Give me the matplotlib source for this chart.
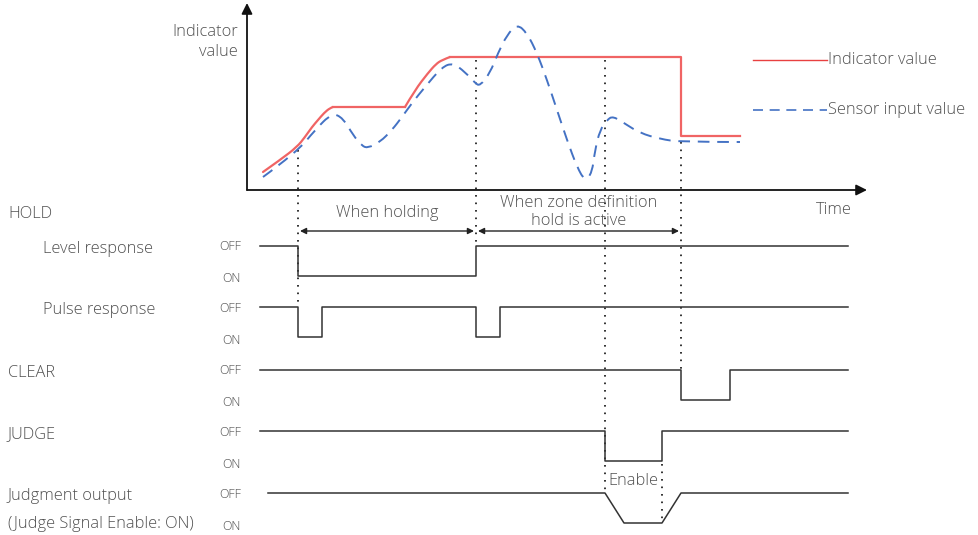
import matplotlib
matplotlib.use("Agg")
import matplotlib.pyplot as plt
from matplotlib.path import Path
from matplotlib.patches import PathPatch

plt.rcParams['font.family'] = ['Open Sans', 'DejaVu Sans']

# ---------------- data ----------------
# Upper chart: time (px from left) and value (px above the time axis)
sensor_t = [263, 297, 315, 332, 343, 353, 362, 368, 380, 392, 402, 412, 425, 442, 453,
            465, 475, 480, 490, 498, 507, 517, 527, 537, 547, 557, 567, 577, 585, 592,
            595, 600, 607, 613, 627, 640, 660, 681, 740]
sensor_v = [13, 38, 60, 77, 72, 55, 44, 42, 48, 60, 73, 87, 103, 123, 127,
            118, 107, 104, 117, 137, 155, 166, 157, 137, 110, 80, 50, 23, 9, 17,
            40, 60, 70, 74, 65, 57, 51, 48, 48]

indicator_t = [263, 280, 297, 305, 312, 318, 324, 330, 333, 405, 415, 428, 436, 442, 450, 681, 681, 740]
indicator_v = [18, 30, 43, 53, 63, 70, 77, 82, 83, 83, 100, 117, 126, 130, 133, 133, 54, 54]

# Timing signals: transition times and levels (1 = OFF, 0 = ON)
level_t = [260, 298, 298, 476, 476, 848]
level_s = [1, 1, 0, 0, 1, 1]
pulse_t = [260, 298, 298, 322, 322, 476, 476, 500, 500, 848]
pulse_s = [1, 1, 0, 0, 1, 1, 0, 0, 1, 1]
clear_t = [260, 681, 681, 730, 730, 848]
clear_s = [1, 1, 0, 0, 1, 1]
judge_t = [260, 605, 605, 662, 662, 848]
judge_s = [1, 1, 0, 0, 1, 1]
output_t = [268, 605, 624, 662, 681, 848]
output_s = [1, 1, 0, 0, 1, 1]

row_labels = ["Level response", "Pulse response", "CLEAR", "JUDGE", "Judgment output"]
row_indent = [43, 43, 8, 8, 8]
row_off_y = [246, 307, 370, 431, 493]
row_height = 30

hold_start, hold_end, zone_end = 298, 476, 681
judge_on, judge_off = 605, 662

# ---------------- figure ----------------
W, H = 979, 535
fig = plt.figure(figsize=(W / 100, H / 100), dpi=100)
ax = fig.add_axes([0, 0, 1, 1])
ax.set_xlim(0, W)
ax.set_ylim(H, 0)
ax.axis('off')

axis_y = 190
top = fig.add_axes([0, (H - axis_y) / H, 1, axis_y / H])
top.set_xlim(0, W)
top.set_ylim(0, axis_y)
top.axis('off')
top.patch.set_alpha(0)

txt = '#505050'
sig = '#333333'
fw = 'light'
fs = 11.8
red = '#f06464'
blue = '#4472c4'

# axes arrows
x0 = 247
top.annotate('', xy=(867, 0), xytext=(x0, 0), annotation_clip=False,
             arrowprops=dict(arrowstyle='-|>', mutation_scale=16, color='#111111', lw=1.3, shrinkA=0, shrinkB=0))
top.annotate('', xy=(x0, 187), xytext=(x0, 0), annotation_clip=False,
             arrowprops=dict(arrowstyle='-|>', mutation_scale=16, color='#111111', lw=1.3, shrinkA=0, shrinkB=0))


def smooth_path(xs, ys):
    """Quadratic B-spline path using the read points as control points."""
    verts = [(xs[0], ys[0])]
    codes = [Path.MOVETO]
    n = len(xs)
    for i in range(1, n - 1):
        mx, my = (xs[i] + xs[i + 1]) / 2, (ys[i] + ys[i + 1]) / 2
        if i == n - 2:
            mx, my = xs[i + 1], ys[i + 1]
        verts += [(xs[i], ys[i]), (mx, my)]
        codes += [Path.CURVE3, Path.CURVE3]
    return Path(verts, codes)


# indicator: smooth rise, flat, smooth rise, flat, drop
for seg in [slice(0, 9), slice(9, 15)]:
    top.add_patch(PathPatch(smooth_path(indicator_t[seg], indicator_v[seg]), fill=False,
                            edgecolor=red, lw=1.6, clip_on=False, zorder=3, capstyle='round'))
top.plot(indicator_t[8:10], indicator_v[8:10], color=red, lw=1.6, clip_on=False, zorder=3)
top.plot(indicator_t[14:], indicator_v[14:], color=red, lw=1.6, clip_on=False, zorder=3)
# sensor
top.add_patch(PathPatch(smooth_path(sensor_t, sensor_v), fill=False, edgecolor=blue,
                        lw=1.4, linestyle=(0, (6, 4)), clip_on=False, zorder=3))

# legend
ax.plot([753, 827], [60, 60], color='#e84040', lw=1.0)
ax.text(828, 60, "Indicator value", color=txt, fontsize=fs, fontweight=fw, va='center', ha='left')
ax.plot([753, 827], [110, 110], color=blue, lw=1.2, dashes=(6, 4))
ax.text(828, 110, "Sensor input value", color=txt, fontsize=fs, fontweight=fw, va='center', ha='left')

ax.text(238, 42, "Indicator\nvalue", color=txt, fontsize=fs, fontweight=fw, ha='right', va='center',
        linespacing=1.4)
ax.text(834, 210, "Time", color=txt, fontsize=fs, fontweight=fw, ha='center', va='center')

# dotted guide lines
dot = dict(color='#111111', lw=1.2, linestyle=(0, (1, 3.5)))
ax.plot([hold_start, hold_start], [150, 307], **dot)
ax.plot([hold_end, hold_end], [60, 246], **dot)
ax.plot([judge_on, judge_on], [60, 493], **dot)
ax.plot([judge_off, judge_off], [464, 523], **dot)
ax.plot([zone_end, zone_end], [142, 370], **dot)

# range arrows
for a, b in [(hold_start, hold_end), (hold_end, zone_end)]:
    ax.annotate('', xy=(b - 2, 231), xytext=(a + 2, 231),
                arrowprops=dict(arrowstyle='<|-|>', mutation_scale=9, color='#222222', lw=1.0, shrinkA=0, shrinkB=0))
ax.text((hold_start + hold_end) / 2, 213, "When holding", color=txt, fontsize=fs, fontweight=fw,
        ha='center', va='center')
ax.text((hold_end + zone_end) / 2, 212, "When zone definition\nhold is active", color=txt, fontsize=fs,
        fontweight=fw, ha='center', va='center', linespacing=1.15)

# signals
ax.text(8, 214, "HOLD", color=txt, fontsize=fs, fontweight=fw, va='center', ha='left')
signals = [(level_t, level_s), (pulse_t, pulse_s), (clear_t, clear_s), (judge_t, judge_s), (output_t, output_s)]
for (t, s), lab, ind, yoff in zip(signals, row_labels, row_indent, row_off_y):
    ys = [yoff + (1 - v) * row_height for v in s]
    ax.plot(t, ys, color=sig, lw=1.1)
    ax.text(ind, yoff + 3, lab, color=txt, fontsize=fs, fontweight=fw, va='center', ha='left')
    ax.text(241, yoff + 1, "OFF", color=txt, fontsize=8.9, fontweight=fw, va='center', ha='right')
    ax.text(241, yoff + row_height + 3, "ON", color=txt, fontsize=8.9, fontweight=fw, va='center', ha='right')
ax.text(8, 524, "(Judge Signal Enable: ON)", color=txt, fontsize=fs, fontweight=fw, va='center', ha='left')
ax.text((judge_on + judge_off) / 2, 481, "Enable", color=txt, fontsize=fs, fontweight=fw,
        va='center', ha='center')

fig.savefig("out.png", dpi=100, facecolor='white')
